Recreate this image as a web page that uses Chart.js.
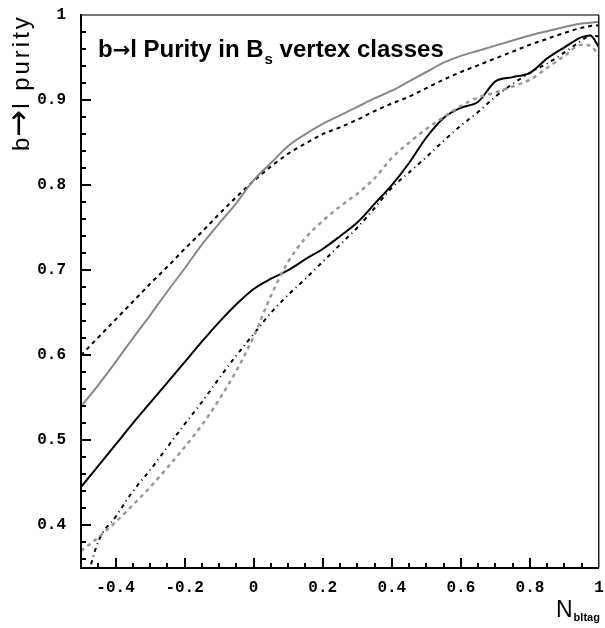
<!DOCTYPE html>
<html>
<head>
<meta charset="utf-8">
<script src="https://cdn.jsdelivr.net/npm/chart.js@4.4.0/dist/chart.umd.min.js"></script>
<style>
    body { margin: 0; background: #fff; }
    #wrap { width: 605px; height: 628px; }
</style>
</head>
<body>
<div id="wrap"><canvas id="purityChart" width="605" height="628"></canvas></div>
<script>
// N_bltag sampling points
const nBltag = [-0.5, -0.45, -0.4, -0.35, -0.3, -0.25, -0.2, -0.15, -0.1, -0.05,
    0, 0.05, 0.1, 0.15, 0.2, 0.25, 0.3, 0.35, 0.4, 0.45,
    0.5, 0.55, 0.6, 0.65, 0.7, 0.75, 0.8, 0.85, 0.9, 0.95, 0.975, 1.0];

// purity curves for the vertex classes
const graySolid = [0.540, 0.565, 0.592, 0.620, 0.647, 0.675, 0.702, 0.730, 0.755, 0.779,
    0.806, 0.826, 0.846, 0.860, 0.872, 0.882, 0.892, 0.902, 0.911, 0.922,
    0.933, 0.944, 0.952, 0.958, 0.964, 0.970, 0.976, 0.981, 0.986, 0.990, 0.991, 0.992];
const blackDashed = [0.600, 0.621, 0.642, 0.663, 0.684, 0.704, 0.725, 0.745, 0.766, 0.786,
    0.805, 0.822, 0.837, 0.849, 0.860, 0.868, 0.877, 0.887, 0.896, 0.904,
    0.914, 0.924, 0.933, 0.941, 0.949, 0.957, 0.965, 0.972, 0.979, 0.985, 0.987, 0.988];
const blackSolid = [0.445, 0.470, 0.495, 0.520, 0.544, 0.568, 0.592, 0.616, 0.639, 0.660,
    0.678, 0.690, 0.700, 0.713, 0.725, 0.740, 0.756, 0.778, 0.800, 0.826,
    0.856, 0.879, 0.891, 0.898, 0.922, 0.927, 0.932, 0.949, 0.962, 0.974, 0.976, 0.962];
const grayDashed = [0.370, 0.386, 0.404, 0.424, 0.445, 0.468, 0.492, 0.518, 0.548, 0.582,
    0.622, 0.670, 0.710, 0.738, 0.758, 0.775, 0.790, 0.808, 0.832, 0.850,
    0.866, 0.880, 0.893, 0.903, 0.909, 0.916, 0.924, 0.938, 0.952, 0.965, 0.964, 0.952];
const blackDashDot = [0.310, 0.381, 0.410, 0.440, 0.465, 0.492, 0.519, 0.545, 0.573, 0.600,
    0.625, 0.650, 0.671, 0.690, 0.710, 0.730, 0.750, 0.773, 0.797, 0.815,
    0.833, 0.852, 0.870, 0.886, 0.904, 0.919, 0.932, 0.943, 0.956, 0.970, 0.976, 0.975];

// axis tick labels
const xTicks = [-0.4, -0.2, 0, 0.2, 0.4, 0.6, 0.8, 1];
const yTicks = [0.4, 0.5, 0.6, 0.7, 0.8, 0.9, 1];

const SANS = '"Liberation Sans", Arial, sans-serif';
const ARROW = '"DejaVu Sans", sans-serif';

function toPoints(values) {
    return values.map((v, i) => ({ x: nBltag[i], y: v }));
}

// draw text pieces one after another, returns the end x
function drawPieces(ctx, pieces, x, y) {
    pieces.forEach(p => {
        ctx.font = p.font;
        ctx.letterSpacing = p.spacing || '0px';
        ctx.fillText(p.text, x + (p.dx || 0), y + (p.dy || 0));
        x += ctx.measureText(p.text).width + (p.dx || 0);
    });
    ctx.letterSpacing = '0px';
    return x;
}

// 边框、刻度和标题
const framePlugin = {
    id: 'framePlugin',
    afterDraw(chart) {
        const ctx = chart.ctx;
        const a = chart.chartArea;
        const xs = chart.scales.x;
        const ys = chart.scales.y;
        ctx.save();
        ctx.setLineDash([]);

        // frame
        ctx.fillStyle = '#777';
        ctx.fillRect(a.left, a.top - 1, a.right - a.left, 2);
        ctx.fillStyle = '#222';
        ctx.fillRect(a.right - 1, a.top, 1.5, a.bottom - a.top);
        ctx.fillStyle = '#000';
        ctx.fillRect(a.left - 1, a.top - 1, 2, a.bottom - a.top + 2);
        ctx.fillRect(a.left - 1, a.bottom - 1, a.right - a.left + 1, 2);

        // ticks pointing into the frame
        ctx.fillStyle = '#000';
        for (let i = 1; i < 30; i++) {
            const v = -0.5 + i * 0.05;
            const px = Math.round(xs.getPixelForValue(v));
            const len = Math.abs(v / 0.2 - Math.round(v / 0.2)) < 1e-6 ? 10 : 5;
            ctx.fillRect(px - 1, a.bottom - len, 2, len);
        }
        for (let i = 0; i < 32; i++) {
            const v = 0.36 + i * 0.02;
            const py = Math.round(ys.getPixelForValue(v));
            const len = Math.abs(v * 10 - Math.round(v * 10)) < 1e-6 ? 10 : 5;
            ctx.fillRect(a.left, py - 1, len, 2);
        }

        ctx.fillStyle = '#000';
        ctx.textBaseline = 'alphabetic';
        ctx.textAlign = 'left';

        // title with subscript
        drawPieces(ctx, [
            { text: 'b', font: 'bold 24px ' + SANS },
            { text: '\u2192', font: 'bold 21px ' + ARROW },
            { text: 'l Purity in B', font: 'bold 24px ' + SANS },
            { text: 's', font: 'bold 15px ' + SANS, dx: 1, dy: 7 },
            { text: ' vertex classes', font: 'bold 24px ' + SANS }
        ], 98, 57);

        // x axis title
        drawPieces(ctx, [
            { text: 'N', font: '23px ' + SANS },
            { text: 'bltag', font: 'bold 11px ' + SANS, dx: 1, dy: 4 }
        ], 556, 617);

        // y axis title, rotated, ending at the top
        ctx.save();
        ctx.translate(29, 151);
        ctx.rotate(-Math.PI / 2);
        drawPieces(ctx, [
            { text: 'b', font: '24px ' + SANS },
            { text: '\u2192', font: '32px ' + ARROW, dx: 1 },
            { text: 'l purity', font: '24px ' + SANS, spacing: '3px', dx: 1 }
        ], 0, 0);
        ctx.restore();

        ctx.restore();
    }
};

function makeSet(label, values, color, width, dash) {
    return {
        label,
        data: toPoints(values),
        borderColor: color,
        borderWidth: width,
        borderDash: dash,
        pointRadius: 0,
        cubicInterpolationMode: 'monotone',
        fill: false
    };
}

function initPurityChart() {
    const ctx = document.getElementById('purityChart').getContext('2d');
    const tickFont = { family: '"Liberation Mono", "Courier New", monospace', size: 16, weight: 'bold' };

    new Chart(ctx, {
        type: 'line',
        data: {
            datasets: [
                makeSet('gray solid', graySolid, '#888', 2, []),
                makeSet('black dashed', blackDashed, '#000', 2, [4, 4]),
                makeSet('gray dashed', grayDashed, '#999', 2.5, [4, 4]),
                makeSet('dash-dot', blackDashDot, '#000', 2, [4, 4, 1, 4]),
                makeSet('black solid', blackSolid, '#000', 2, [])
            ]
        },
        options: {
            responsive: false,
            animation: false,
            layout: { padding: { top: 15, right: 0, left: 0, bottom: 0 } },
            plugins: {
                legend: { display: false },
                tooltip: { enabled: false }
            },
            scales: {
                x: {
                    type: 'linear',
                    min: -0.5,
                    max: 1,
                    grid: { display: false, drawTicks: false },
                    border: { display: false },
                    afterBuildTicks: (scale) => { scale.ticks = xTicks.map(v => ({ value: v })); },
                    afterFit: (scale) => {
                        scale.height = 60;
                        scale.paddingLeft = 0;
                        scale.paddingRight = 6;
                    },
                    ticks: {
                        color: '#000',
                        font: tickFont,
                        padding: 10,
                        maxRotation: 0,
                        autoSkip: false,
                        callback: (v) => String(v)
                    }
                },
                y: {
                    type: 'linear',
                    min: 0.35,
                    max: 1,
                    grid: { display: false, drawTicks: false },
                    border: { display: false },
                    afterBuildTicks: (scale) => { scale.ticks = yTicks.map(v => ({ value: v })); },
                    afterFit: (scale) => {
                        scale.width = 81;
                        scale.paddingTop = 0;
                        scale.paddingBottom = 0;
                    },
                    ticks: {
                        color: '#000',
                        font: tickFont,
                        padding: 15,
                        autoSkip: false,
                        callback: (v) => String(v)
                    }
                }
            }
        },
        plugins: [framePlugin]
    });
}

document.addEventListener('DOMContentLoaded', () => {
    initPurityChart();
});
</script>
</body>
</html>
